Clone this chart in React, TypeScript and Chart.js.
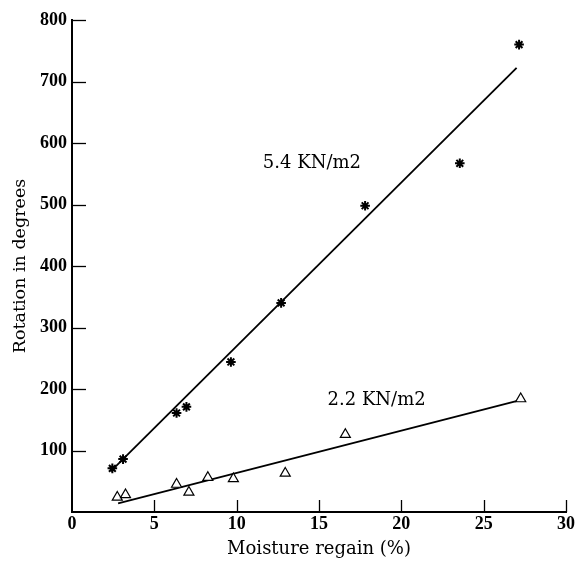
import React, { useEffect, useRef } from "react";
import { Chart, registerables } from "chart.js";

Chart.register(...registerables);

// 5.4 KN/m2 series (asterisks)
const highX = [2.45, 3.1, 6.35, 6.95, 9.65, 12.7, 17.8, 23.55, 27.15];
const highY = [71, 86, 161, 171, 244, 340, 498, 567, 760];

// 2.2 KN/m2 series (open triangles)
const lowX = [2.75, 3.25, 6.35, 7.1, 8.25, 9.8, 12.95, 16.6, 27.25];
const lowY = [24, 28, 45, 32, 56, 54, 63, 126, 184];

// fitted straight lines
const fitHighX = [2.35, 27.0];
const fitHighY = [66, 722];
const fitLowX = [2.8, 27.1];
const fitLowY = [14, 181];

// in-plot labels
const labelTexts = ["5.4 KN/m2", "2.2 KN/m2"];
const labelX = [14.57, 18.5];
const labelY = [567, 182];

const xMin = 0;
const xMax = 30;
const xStep = 5;
const yMin = 0;
const yMax = 800;
const yStep = 100;

const xTitle = "Moisture regain (%)";
const yTitle = "Rotation in degrees";

const toPts = (xs: number[], ys: number[]) => xs.map((x, i) => ({ x, y: ys[i] }));

const inwardTicks = {
  id: "inwardTicks",
  afterDraw(chart: any) {
    const { ctx, chartArea, scales } = chart;
    const x = scales.x;
    const y = scales.y;
    ctx.save();
    ctx.strokeStyle = "#000";
    ctx.lineWidth = 1.3;
    y.ticks.forEach((t: any) => {
      if (t.value === yMin) return;
      const py = Math.round(y.getPixelForValue(t.value)) + 0.5;
      ctx.beginPath();
      ctx.moveTo(chartArea.left, py);
      ctx.lineTo(chartArea.left + 14, py);
      ctx.stroke();
    });
    x.ticks.forEach((t: any) => {
      if (t.value === xMin) return;
      const px = Math.round(x.getPixelForValue(t.value)) + 0.5;
      ctx.beginPath();
      ctx.moveTo(px, chartArea.bottom);
      ctx.lineTo(px, chartArea.bottom - 12);
      ctx.stroke();
    });
    ctx.restore();
  },
};

const curveLabels = {
  id: "curveLabels",
  afterDraw(chart: any) {
    const { ctx, scales } = chart;
    ctx.save();
    ctx.fillStyle = "#000";
    ctx.font = "18px 'DejaVu Serif'";
    ctx.textAlign = "center";
    ctx.textBaseline = "middle";
    labelTexts.forEach((txt, i) => {
      ctx.fillText(txt, scales.x.getPixelForValue(labelX[i]), scales.y.getPixelForValue(labelY[i]));
    });
    ctx.restore();
  },
};

export default function App() {
  const ref = useRef<HTMLCanvasElement | null>(null);

  useEffect(() => {
    if (!ref.current) return;
    const chart = new Chart(ref.current, {
      type: "scatter",
      data: {
        datasets: [
          {
            label: "5.4 KN/m2",
            data: toPts(highX, highY),
            pointStyle: "star",
            pointRadius: 4.8,
            pointBorderWidth: 2,
            borderColor: "#000",
            backgroundColor: "#000",
            showLine: false,
          },
          {
            label: "2.2 KN/m2",
            data: toPts(lowX, lowY),
            pointStyle: "triangle",
            pointRadius: 5.8,
            pointBorderWidth: 1.2,
            borderColor: "#000",
            backgroundColor: "#fff",
            showLine: false,
          },
          {
            label: "fit 5.4",
            data: toPts(fitHighX, fitHighY),
            showLine: true,
            pointRadius: 0,
            borderColor: "#000",
            borderWidth: 1.8,
            fill: false,
          },
          {
            label: "fit 2.2",
            data: toPts(fitLowX, fitLowY),
            showLine: true,
            pointRadius: 0,
            borderColor: "#000",
            borderWidth: 1.8,
            fill: false,
          },
        ],
      } as any,
      options: {
        responsive: false,
        animation: false,
        devicePixelRatio: 1,
        layout: { padding: { top: 20, right: 14, left: 0, bottom: 0 } },
        plugins: {
          legend: { display: false },
          tooltip: { enabled: false },
        },
        scales: {
          x: {
            type: "linear",
            min: xMin,
            max: xMax,
            ticks: {
              stepSize: xStep,
              padding: 2,
              color: "#000",
              font: { family: "'Liberation Serif'", size: 18, weight: "bold" },
            },
            grid: { display: true, drawOnChartArea: false, drawTicks: false },
            border: { display: true, color: "#000", width: 2 },
            title: {
              display: true,
              text: xTitle,
              color: "#000",
              font: { family: "'DejaVu Serif'", size: 18 },
              padding: { top: 0, bottom: 2.5 },
            },
            afterFit: (s: any) => {
              s.height = 51;
            },
          },
          y: {
            type: "linear",
            min: yMin,
            max: yMax,
            ticks: {
              stepSize: yStep,
              padding: 5,
              color: "#000",
              font: { family: "'Liberation Serif'", size: 18, weight: "bold" },
              callback: (v: any) => (v === yMin ? "" : String(v)),
            },
            grid: { display: true, drawOnChartArea: false, drawTicks: false },
            border: { display: true, color: "#000", width: 2 },
            title: {
              display: true,
              text: yTitle,
              color: "#000",
              font: { family: "'DejaVu Serif'", size: 17.5 },
              padding: { top: 10.3, bottom: 0 },
            },
            afterFit: (s: any) => {
              s.width = 72;
            },
          },
        },
      } as any,
      plugins: [inwardTicks, curveLabels],
    });
    return () => chart.destroy();
  }, []);

  return (
    <div style={{ position: "fixed", left: 0, top: 0, width: 580, height: 563, background: "#fff" }}>
      <canvas ref={ref} width={580} height={563} style={{ display: "block", width: 580, height: 563 }} />
    </div>
  );
}
